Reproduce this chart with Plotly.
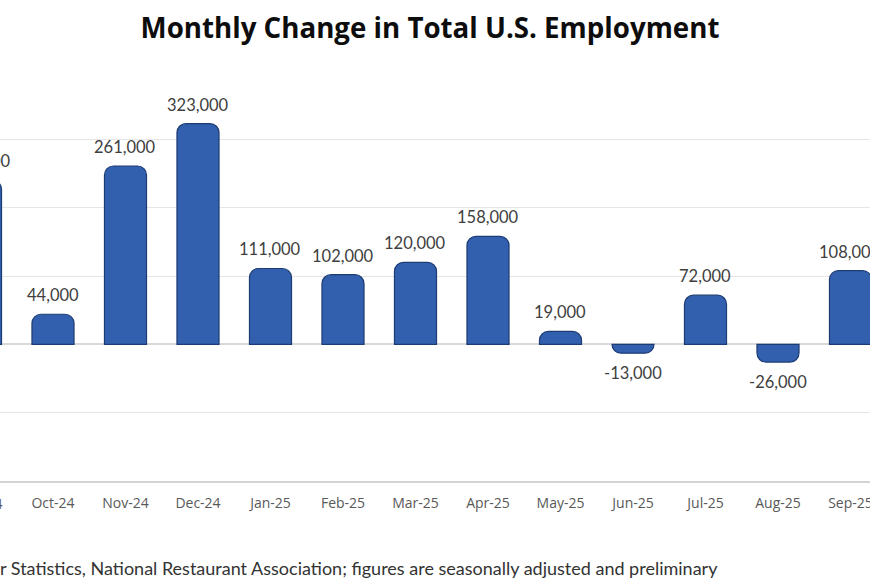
import plotly.graph_objects as go

months = ["Sep-24", "Oct-24", "Nov-24", "Dec-24", "Jan-25", "Feb-25", "Mar-25",
          "Apr-25", "May-25", "Jun-25", "Jul-25", "Aug-25", "Sep-25"]
jobs_change = [240000, 44000, 261000, 323000, 111000, 102000, 120000,
               158000, 19000, -13000, 72000, -26000, 108000]
title_text = "Monthly Change in Total U.S. Employment"
source_text = ("Source: Bureau of Labor Statistics, National Restaurant Association; "
               "figures are seasonally adjusted and preliminary")

X_RANGE = [0.269, 12.269]
positions = list(range(len(months)))

fig = go.Figure()
fig.add_trace(go.Bar(
    x=positions,
    y=jobs_change,
    width=0.58,
    marker=dict(color="#3260AE", line=dict(color="#1E3C74", width=1.2), cornerradius=9),
    hoverinfo="skip",
))


def to_paper_x(v):
    return (v - X_RANGE[0]) / (X_RANGE[1] - X_RANGE[0])


annotations = []
for i, v in zip(positions, jobs_change):
    annotations.append(dict(
        x=to_paper_x(i), y=v, xref="paper", yref="y", xanchor="center", yanchor="middle",
        text=f"{v:,}", showarrow=False,
        yshift=19 if v >= 0 else -20, font=dict(family="Lato", size=16.5, color="#404040"),
    ))
# tick label of the first (partly cropped) month, whose tick lies left of the axis range
annotations.append(dict(
    x=to_paper_x(positions[0]), y=0, xref="paper", yref="paper", xanchor="center",
    yanchor="middle", yshift=-22, text=months[0], showarrow=False,
    font=dict(family="Open Sans", size=14, color="#595959"),
))
annotations.append(dict(
    x=720 / 870, y=-87 / 410, xref="paper", yref="paper", xanchor="right", yanchor="middle",
    text=source_text, showarrow=False,
    font=dict(family="Lato", size=18, color="#333333"),
))

fig.update_layout(
    width=870, height=580,
    margin=dict(l=0, r=0, t=71, b=99, autoexpand=False),
    paper_bgcolor="white", plot_bgcolor="white",
    showlegend=False,
    title=dict(text=f"<b>{title_text}</b>", x=430 / 870, xanchor="center",
               y=1 - 28 / 580, yanchor="middle", yref="container",
               font=dict(family="Open Sans", size=27.7, color="#0d0d0d")),
    annotations=annotations,
    xaxis=dict(
        range=X_RANGE,
        tickmode="array", tickvals=positions, ticktext=months,
        tickfont=dict(family="Open Sans", size=14, color="#595959"),
        showgrid=False, showline=True, linecolor="#d4d4d4", linewidth=1.5,
        ticks="", ticklabelstandoff=8, ticklabeloverflow="allow",
    ),
    yaxis=dict(
        range=[-200000, 400000], dtick=100000, showticklabels=False,
        showgrid=True, gridcolor="#e6e6e6", gridwidth=1,
        zeroline=True, zerolinecolor="#d9d9d9", zerolinewidth=1.5,
    ),
)

fig.write_html(
    "out.html",
    config={"displayModeBar": False},
    post_script="document.body.style.margin='0';document.body.style.overflow='hidden';",
)
